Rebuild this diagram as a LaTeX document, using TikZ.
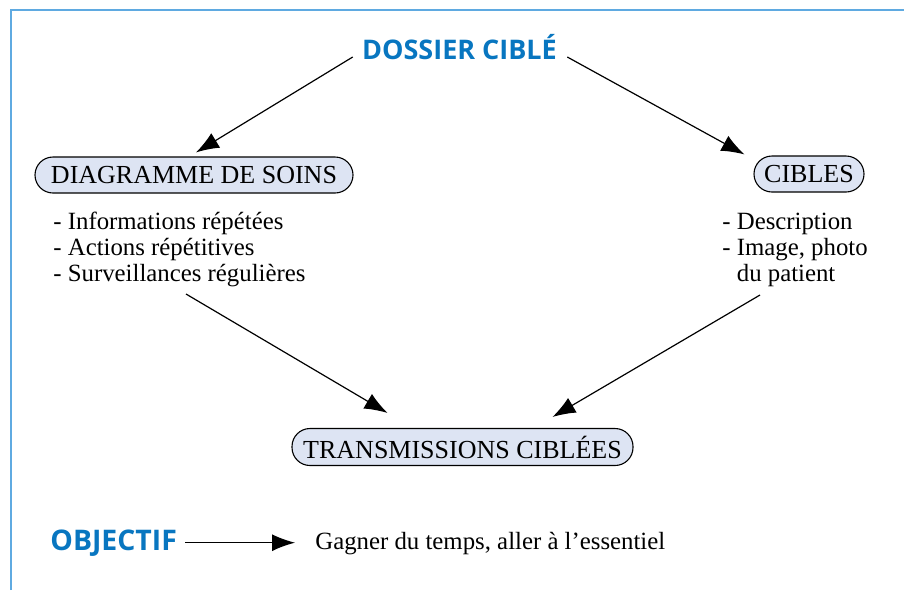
\documentclass[tikz,border=0pt]{standalone}
\usepackage{fontspec}
\setmainfont{Liberation Serif}
\newfontfamily\headfont{Open Sans}
\usetikzlibrary{arrows.meta,calc}
\definecolor{titleblue}{RGB}{8,118,192}
\definecolor{frameblue}{RGB}{95,170,225}
\definecolor{boxfill}{RGB}{221,228,243}
\tikzset{
  head/.style={inner sep=0pt,text=titleblue,font={\headfont\bfseries\fontsize{13.5pt}{14pt}\selectfont}},
  pill/.style={draw=black,line width=0.55pt,fill=boxfill,rounded corners=9pt,inner sep=0pt,
    font={\fontsize{13pt}{13pt}\selectfont}},
  item/.style={inner sep=0pt,anchor=base west,font={\fontsize{12.4pt}{13pt}\selectfont}},
  arr/.style={-{Latex[length=11.5pt,width=8.5pt]},line width=0.6pt},
}
\begin{document}
\begin{tikzpicture}[x=0.5pt,y=-0.5pt]
\useasboundingbox (0,0) rectangle (904,590);
\draw[color=frameblue,line width=0.8pt] (11,590) -- (11,10) -- (904,10);

\node[head,anchor=base] (dossier) at (459.5,59) {DOSSIER CIBLÉ};

\node[pill,minimum width=159pt,minimum height=18pt] (diag) at (194,175) {DIAGRAMME DE SOINS};
\node[pill,minimum width=55pt,minimum height=18pt] (cibles) at (809,174) {CIBLES};
\node[pill,minimum width=170.5pt,minimum height=18.5pt] (trans) at (462.5,447) {TRANSMISSIONS CIBLÉES};

\node[item] (l1) at (53,229) {- Informations répétées};
\node[item] (l2) at (53,255) {- Actions répétitives};
\node[item] (l3) at (53,281) {- Surveillances régulières};

\node[item] (r1) at (722,229) {- Description};
\node[item] (r2) at (722,255) {- Image, photo};
\node[item] (r3) at (722,281) {\phantom{- }du patient};

\draw[arr] ($(dossier.base west)+(-9,-2)$) -- ($(diag.north)+(2,-4)$);
\draw[arr] ($(dossier.base east)+(10,-2)$) -- ($(cibles.north west)+(-9,-1)$);
\draw[arr] ($(l3.base west)+(133,13)$) -- ($(trans.north)+(-75,-15)$);
\draw[arr] ($(r3.base west)+(38,14)$) -- ($(trans.north)+(90,-11)$);

\node[head,anchor=base west,font={\headfont\bfseries\fontsize{14.2pt}{15pt}\selectfont}] (obj) at (50,550) {OBJECTIF};
\node[item] (goal) at (315,549) {Gagner du temps, aller à l’essentiel};
\coordinate (objout) at ($(obj.east)+(8,0)$);
\coordinate (goalin) at ($(goal.west)+(-20,-1)$);
\draw[arr] (objout) -- (objout -| goalin);
\end{tikzpicture}
\end{document}
